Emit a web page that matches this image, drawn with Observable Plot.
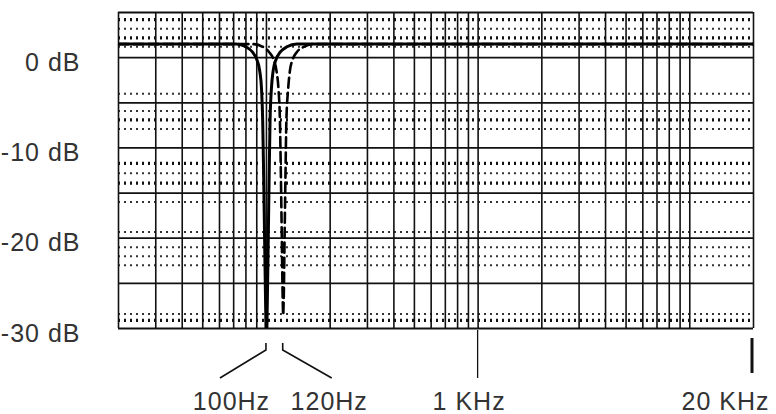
<!DOCTYPE html>
<html><head><meta charset="utf-8">
<script src="https://cdn.jsdelivr.net/npm/d3@7"></script>
<script src="https://cdn.jsdelivr.net/npm/@observablehq/plot@0.6"></script>
<style>
body{margin:0;background:#fff}
#chart svg text{letter-spacing:1px}
</style>
</head><body><div id="chart"></div>
<script>
// Grid (log frequency) and dB levels
const freqGrid = [20,30,40,50,60,70,80,90,100,200,300,400,500,600,700,800,900,1000,2000,3000,4000,5000,6000,7000,8000,9000,10000,20000];
const dbGrid = [5,0,-5,-10,-15,-20,-25,-30];
const dbTicks = [0,-10,-20,-30];
const boldDotRows = [4.2, 2.2, -6.9, -11.7, -13.9, -29.1];
const lightDotRows = [3.2, 1.2, -4.0, -5.9, -7.9, -12.8, -16.0, -19.3, -21.0, -22.0, -23.0, -28.4];

// Notch at 100 Hz (solid)
const notch100Hz = [20,72,80,86,90,93,94.8,96,97,98,99.2,100,100.8,102,103,104,105.5,107.5,111,116,125,139,20000];
const notch100dB = [1.5,1.5,1.2,0.6,-0.2,-1.5,-3.5,-7,-13,-20,-28,-32,-28,-20,-13,-7,-3.5,-1.5,-0.2,0.6,1.2,1.5,1.5];
// Notch at 120 Hz (dashed)
const notch120Hz = [20,86,96,103,108,111.6,114,115.8,117,118.2,119.4,120,120.6,121.8,123,124.2,126.6,129,133,139,150,167,20000];
const notch120dB = [1.5,1.5,1.2,0.6,-0.2,-1.5,-3.5,-7,-13,-20,-27,-28.5,-27,-20,-13,-7,-3.5,-1.5,-0.2,0.6,1.2,1.5,1.5];

// Frequency labels
const freqLabelAt = [100,120,1000,20000];
const freqLabels = ["100Hz","120Hz","1 KHz","20 KHz"];

const toRows = (fs, ds) => fs.map((f, i) => ({f, db: ds[i]}));
const curve100 = toRows(notch100Hz, notch100dB);
const curve120 = toRows(notch120Hz, notch120dB);

// layout of the frequency annotations (pixel offsets)
const labelLayout = [
  {dx: -35},
  {dx: 46},
  {dx: -9},
  {dx: -28}
];

function freqAnnotations(index, scales, values, dim) {
  const y0 = dim.height - dim.marginBottom;
  const g = d3.create("svg:g").attr("stroke", "#111").attr("fill", "none");
  const x100 = scales.x(freqLabelAt[0]);
  const x120 = scales.x(freqLabelAt[1]);
  const x1k = scales.x(freqLabelAt[2]);
  const x20k = scales.x(freqLabelAt[3]);
  g.append("path").attr("stroke-width", 1.6)
    .attr("d", `M${x100},${y0+15}V${y0+22}L${x100-46},${y0+50}`);
  g.append("path").attr("stroke-width", 1.6)
    .attr("d", `M${x120},${y0+15}V${y0+22}L${x120+49},${y0+50}`);
  g.append("path").attr("stroke-width", 1.3)
    .attr("d", `M${x1k},${y0+2}V${y0+50}`);
  g.append("path").attr("stroke-width", 3)
    .attr("d", `M${x20k-1},${y0+10}V${y0+45}`);
  return g.node();
}

const plot = Plot.plot({
  width: 776,
  height: 414,
  marginLeft: 118,
  marginRight: 23,
  marginTop: 12,
  marginBottom: 86,
  style: {fontFamily: "'Liberation Sans', Arial, sans-serif", fontSize: "25px", color: "#333", background: "#fff"},
  x: {type: "log", domain: [20, 20000], axis: null},
  y: {domain: [-30, 5], axis: null},
  marks: [
    Plot.ruleY(lightDotRows, {stroke: "#333", strokeWidth: 2, strokeDasharray: "2,4"}),
    Plot.ruleY(boldDotRows, {stroke: "#111", strokeWidth: 3.2, strokeDasharray: "2,4"}),
    Plot.ruleX(freqGrid, {stroke: "#111", strokeWidth: 1.6}),
    Plot.ruleY(dbGrid, {stroke: "#111", strokeWidth: 1.8}),
    Plot.line(curve120, {x: "f", y: "db", curve: "monotone-x", stroke: "#000", strokeWidth: 2.6, strokeDasharray: "10,5", clip: true}),
    Plot.line(curve100, {x: "f", y: "db", curve: "monotone-x", stroke: "#000", strokeWidth: 3, clip: true}),
    Plot.axisY(dbTicks, {tickSize: 0, tickPadding: 38, tickFormat: d => `${d} dB`, dy: 5, fill: "#333", label: null}),
    freqAnnotations,
    ...freqLabels.map((t, i) => Plot.text([t], {
      x: [freqLabelAt[i]], text: d => d, frameAnchor: "bottom",
      dy: 73, dx: labelLayout[i].dx, fill: "#333", lineAnchor: "middle"
    }))
  ]
});
document.getElementById("chart").appendChild(plot);
</script>
</body></html>
